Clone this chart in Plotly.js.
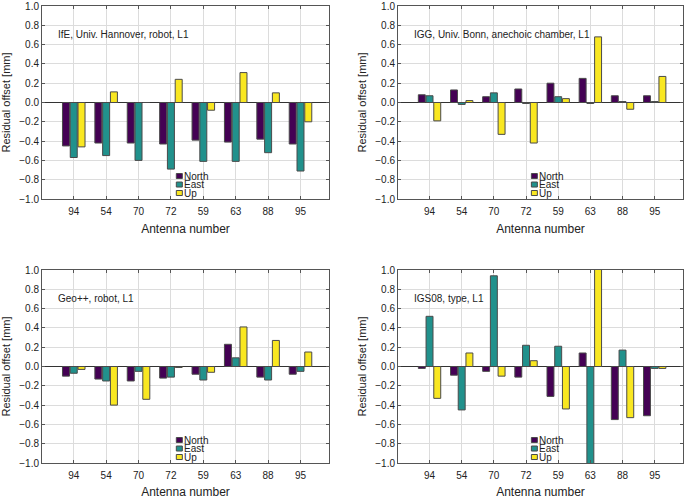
<!DOCTYPE html>
<html>
<head>
<meta charset="utf-8">
<script src="https://cdn.plot.ly/plotly-3.0.1.min.js"></script>
<style>html,body{margin:0;padding:0;background:#fff;}#chart{width:685px;height:499px;}</style>
</head>
<body>
<div id="chart"></div>
<script>
// ---- data ----
const antennas = ['94','54','70','72','59','63','88','95'];
const seriesNames = ['North','East','Up'];
const seriesColors = ['#440154','#21918c','#f9e721'];
const yTicks = [-1.0,-0.8,-0.6,-0.4,-0.2,0.0,0.2,0.4,0.6,0.8,1.0];
const panelTitles = ['IfE, Univ. Hannover, robot, L1','IGG, Univ. Bonn, anechoic chamber, L1','Geo++, robot, L1','IGS08, type, L1'];

const ifeNorth = [-0.45,-0.42,-0.42,-0.43,-0.39,-0.41,-0.38,-0.43];
const ifeEast  = [-0.57,-0.55,-0.60,-0.69,-0.61,-0.61,-0.52,-0.71];
const ifeUp    = [-0.46, 0.11, 0.00, 0.24,-0.08, 0.31, 0.10,-0.20];

const iggNorth = [0.08, 0.13, 0.06, 0.14, 0.20, 0.25, 0.07, 0.07];
const iggEast  = [0.07,-0.02, 0.10,-0.01, 0.06,-0.01, 0.01, 0.01];
const iggUp    = [-0.19, 0.02,-0.33,-0.42, 0.04, 0.68,-0.07, 0.27];

const geoNorth = [-0.10,-0.13,-0.15,-0.12,-0.08, 0.23,-0.11,-0.08];
const geoEast  = [-0.07,-0.15,-0.05,-0.11,-0.14, 0.09,-0.14,-0.05];
const geoUp    = [-0.03,-0.40,-0.34,-0.01,-0.06, 0.41, 0.27, 0.15];

const igsNorth = [-0.02,-0.09,-0.05,-0.11,-0.31, 0.14,-0.55,-0.51];
const igsEast  = [ 0.52,-0.45, 0.94, 0.22, 0.21,-1.20, 0.17,-0.02];
const igsUp    = [-0.33, 0.14,-0.10, 0.06,-0.44, 1.20,-0.53,-0.02];

const panels = [
  [ifeNorth, ifeEast, ifeUp],
  [iggNorth, iggEast, iggUp],
  [geoNorth, geoEast, geoUp],
  [igsNorth, igsEast, igsUp]
];

// ---- layout geometry (px -> paper) ----
const W = 685, H = 499;
const xDomains = [[42/W, 329/W],[398/W, 683/W]];
const yDomains = [[1-199/H, 1-6/H],[1-463/H, 1-270/H]];
const FONT = 'Liberation Sans, Arial, sans-serif';

const traces = [];
const layout = {
  width: W, height: H,
  margin: {l:0, r:0, t:0, b:0},
  paper_bgcolor: '#fff', plot_bgcolor: '#fff',
  showlegend: false,
  barmode: 'group', bargap: 0.28, bargroupgap: 0.1,
  font: {family: FONT, size: 10, color: '#222'},
  annotations: [], shapes: []
};

panels.forEach((series, p) => {
  const idx = p + 1;
  const xa = idx === 1 ? 'x' : 'x' + idx;
  const ya = idx === 1 ? 'y' : 'y' + idx;
  series.forEach((vals, s) => {
    traces.push({
      type: 'bar', x: antennas, y: vals, name: seriesNames[s],
      xaxis: xa, yaxis: ya,
      marker: {color: seriesColors[s], line: {color: '#4a4a4a', width: 1}},
      hoverinfo: 'skip'
    });
  });
  const col = p % 2, row = Math.floor(p / 2);
  layout['xaxis' + (idx === 1 ? '' : idx)] = {
    domain: xDomains[col], anchor: ya,
    type: 'category', categoryorder: 'array', categoryarray: antennas,
    range: [-0.98, 7.88],
    showgrid: true, gridcolor: '#dcdcdc', gridwidth: 1,
    showline: true, linecolor: '#555', linewidth: 1, mirror: 'ticks',
    ticks: 'inside', ticklen: 3, tickcolor: '#555',
    ticklabelstandoff: 3,
    tickfont: {family: FONT, size: 10, color: '#222'},
    title: {text: 'Antenna number', font: {family: FONT, size: 12, color: '#222'}, standoff: 8},
    automargin: false, fixedrange: true
  };
  layout['yaxis' + (idx === 1 ? '' : idx)] = {
    domain: yDomains[row], anchor: xa,
    range: [-1, 1], tickvals: yTicks, tickformat: '.1f',
    showgrid: true, gridcolor: '#dcdcdc', gridwidth: 1,
    zeroline: true, zerolinecolor: '#333', zerolinewidth: 1,
    showline: true, linecolor: '#555', linewidth: 1, mirror: 'ticks',
    ticks: 'inside', ticklen: 3, tickcolor: '#555',
    tickfont: {family: FONT, size: 10, color: '#222'},
    title: {text: 'Residual offset [mm]', font: {family: FONT, size: 11, color: '#222'}, standoff: 6},
    automargin: false, fixedrange: true
  };
  const xr = xa + ' domain', yr = ya + ' domain';
  layout.annotations.push({
    xref: xr, yref: yr, x: 0.05, y: 0.85, xanchor: 'left', yanchor: 'middle',
    text: panelTitles[p], showarrow: false, font: {family: FONT, size: 10, color: '#222'}
  });
  // compact legend inside each panel
  const legY = [0.119, 0.075, 0.031];
  seriesNames.forEach((nm, s) => {
    layout.shapes.push({
      type: 'rect', xref: xr, yref: yr,
      x0: 0.468, x1: 0.489, y0: legY[s] - 0.013, y1: legY[s] + 0.013,
      fillcolor: seriesColors[s], line: {color: '#4a4a4a', width: 1}
    });
    layout.annotations.push({
      xref: xr, yref: yr, x: 0.492, y: legY[s], xanchor: 'left', yanchor: 'middle',
      text: nm, showarrow: false, borderpad: 0,
      font: {family: FONT, size: 10, color: '#222'}
    });
  });
});

Plotly.newPlot('chart', traces, layout, {staticPlot: true, displayModeBar: false});
</script>
</body>
</html>
